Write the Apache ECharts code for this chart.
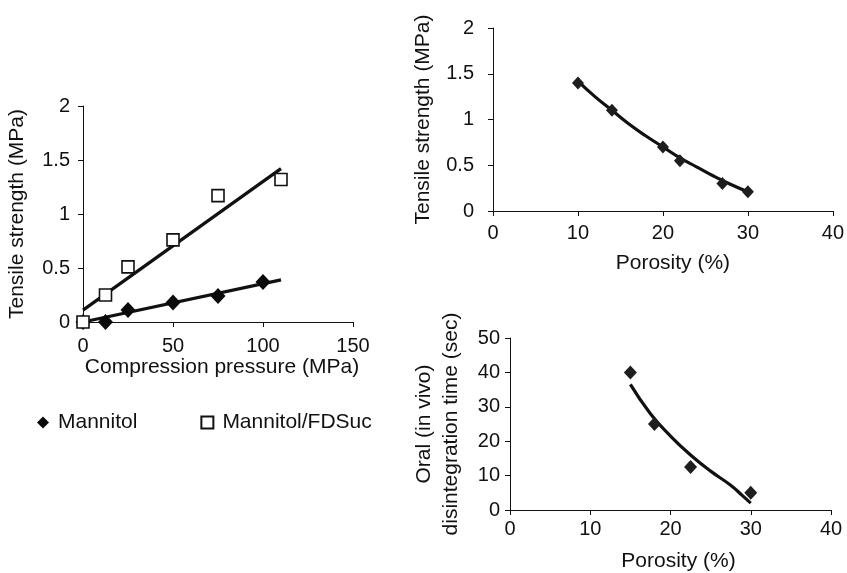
<!DOCTYPE html>
<html>
<head>
<meta charset="utf-8">
<script src="https://cdn.jsdelivr.net/npm/echarts@6/dist/echarts.min.js"></script>
<style>
  html, body { margin: 0; padding: 0; background: #fff; }
  #chart { width: 847px; height: 573px; }
</style>
</head>
<body>
<div id="chart"></div>
<script>
// Tensile strength vs compression pressure
var mannitolPressure = [0, 12.5, 25, 50, 75, 100];
var mannitolStrength = [0, 0, 0.11, 0.18, 0.24, 0.37];
var fdsucPressure = [0, 12.5, 25, 50, 75, 110];
var fdsucStrength = [0, 0.25, 0.51, 0.76, 1.17, 1.32];
// Linear trend lines (end points)
var fitPressure = [0, 110];
var mannitolFit = [0.0, 0.39];
var fdsucFit = [0.11, 1.42];

// Tensile strength vs porosity
var porosityTS = [10, 14, 20, 22, 27, 30];
var strengthTS = [1.40, 1.10, 0.70, 0.55, 0.30, 0.21];
var tsCurveX = [10, 12, 14, 16, 18, 20, 22, 24, 26, 28, 30];
var tsCurveY = [1.42, 1.25, 1.10, 0.95, 0.82, 0.70, 0.58, 0.48, 0.38, 0.29, 0.21];

// Oral disintegration time vs porosity
var porosityDT = [15, 18, 22.5, 30];
var disintegrationTime = [40, 25, 12.5, 5];
var dtCurveX = [15, 17.5, 20, 22.5, 25, 27.5, 29, 30];
var dtCurveY = [36.5, 28, 21.5, 16, 11.3, 7.2, 4.1, 2];

var seriesNames = ['Mannitol', 'Mannitol/FDSuc'];

function pairs(xs, ys) {
  return xs.map(function (x, i) { return [x, ys[i]]; });
}

var FONT = '"Liberation Sans", Arial, Helvetica, sans-serif';
var INK = '#111';

function xAxisCfg(grid, max, interval, name, gap, margin, shift) {
  return {
    type: 'value', gridIndex: grid, min: 0, max: max, interval: interval,
    name: name, nameLocation: 'middle', nameGap: gap,
    nameTextStyle: { fontFamily: FONT, fontSize: 21, color: INK, padding: [0, 0, 0, shift || 0] },
    axisLine: { show: true, onZero: false, lineStyle: { color: INK, width: 1 } },
    axisTick: { show: true, inside: false, length: 5, lineStyle: { color: INK } },
    axisLabel: { fontFamily: FONT, fontSize: 20, color: INK, margin: margin },
    splitLine: { show: false }
  };
}

function yAxisCfg(grid, max, interval, name, gap, margin) {
  return {
    type: 'value', gridIndex: grid, min: 0, max: max, interval: interval,
    name: name, nameLocation: 'middle', nameGap: gap,
    nameTextStyle: { fontFamily: FONT, fontSize: 21, color: INK, lineHeight: 27 },
    axisLine: { show: true, lineStyle: { color: INK, width: 1 } },
    axisTick: { show: true, inside: false, length: 5, lineStyle: { color: INK } },
    axisLabel: { fontFamily: FONT, fontSize: 20, color: INK, margin: margin },
    splitLine: { show: false }
  };
}

var chart = echarts.init(document.getElementById('chart'), null, { renderer: 'canvas' });

chart.setOption({
  backgroundColor: '#ffffff',
  animation: false,
  textStyle: { fontFamily: FONT },
  grid: [
    { left: 83, top: 106, width: 270, height: 216 },
    { left: 493, top: 28, width: 340, height: 183 },
    { left: 510, top: 338, width: 321, height: 173 }
  ],
  xAxis: [
    xAxisCfg(0, 150, 50, 'Compression pressure (MPa)', 35, 14, 8),
    xAxisCfg(1, 40, 10, 'Porosity (%)', 42, 12, 20),
    xAxisCfg(2, 40, 10, 'Porosity (%)', 41, 9, 16)
  ],
  yAxis: [
    yAxisCfg(0, 2, 0.5, 'Tensile strength (MPa)', 52, 13),
    yAxisCfg(1, 2, 0.5, 'Tensile strength (MPa)', 56, 19),
    yAxisCfg(2, 50, 10, 'Oral (in vivo)\ndisintegration time (sec)', 45, 10)
  ],
  legend: {
    left: 37, top: 412, padding: 0,
    itemWidth: 12, itemHeight: 12, itemGap: 63,
    textStyle: { fontFamily: FONT, fontSize: 21, color: INK, padding: [0, 0, 0, 4] },
    data: [
      { name: seriesNames[0], icon: 'diamond' },
      { name: seriesNames[1], icon: 'rect' }
    ]
  },
  series: [
    {
      name: 'mannitol-fit', type: 'line', xAxisIndex: 0, yAxisIndex: 0,
      data: pairs(fitPressure, mannitolFit), showSymbol: false, symbol: 'none',
      lineStyle: { color: INK, width: 3.2 }, z: 2, silent: true
    },
    {
      name: 'fdsuc-fit', type: 'line', xAxisIndex: 0, yAxisIndex: 0,
      data: pairs(fitPressure, fdsucFit), showSymbol: false, symbol: 'none',
      lineStyle: { color: INK, width: 3.2 }, z: 2, silent: true
    },
    {
      name: seriesNames[0], type: 'scatter', xAxisIndex: 0, yAxisIndex: 0,
      data: pairs(mannitolPressure, mannitolStrength),
      symbol: 'diamond', symbolSize: [15, 16],
      itemStyle: { color: '#0a0a0a', opacity: 1 }, z: 3, clip: false
    },
    {
      name: seriesNames[1], type: 'scatter', xAxisIndex: 0, yAxisIndex: 0,
      data: pairs(fdsucPressure, fdsucStrength),
      symbol: 'rect', symbolSize: 12,
      itemStyle: { color: '#fff', borderColor: INK, borderWidth: 1.6, opacity: 1 }, z: 4, clip: false
    },
    {
      name: 'ts-curve', type: 'line', xAxisIndex: 1, yAxisIndex: 1,
      data: pairs(tsCurveX, tsCurveY), smooth: true, showSymbol: false, symbol: 'none',
      lineStyle: { color: INK, width: 3.2 }, z: 2, silent: true
    },
    {
      name: 'ts-points', type: 'scatter', xAxisIndex: 1, yAxisIndex: 1,
      data: pairs(porosityTS, strengthTS),
      symbol: 'diamond', symbolSize: [12, 13],
      itemStyle: { color: '#1e1e1e', opacity: 1 }, z: 3
    },
    {
      name: 'dt-curve', type: 'line', xAxisIndex: 2, yAxisIndex: 2,
      data: pairs(dtCurveX, dtCurveY), smooth: true, showSymbol: false, symbol: 'none',
      lineStyle: { color: INK, width: 3.2 }, z: 2, silent: true
    },
    {
      name: 'dt-points', type: 'scatter', xAxisIndex: 2, yAxisIndex: 2,
      data: pairs(porosityDT, disintegrationTime),
      symbol: 'diamond', symbolSize: [13, 14],
      itemStyle: { color: '#1e1e1e', opacity: 1 }, z: 3
    }
  ]
});
</script>
</body>
</html>
